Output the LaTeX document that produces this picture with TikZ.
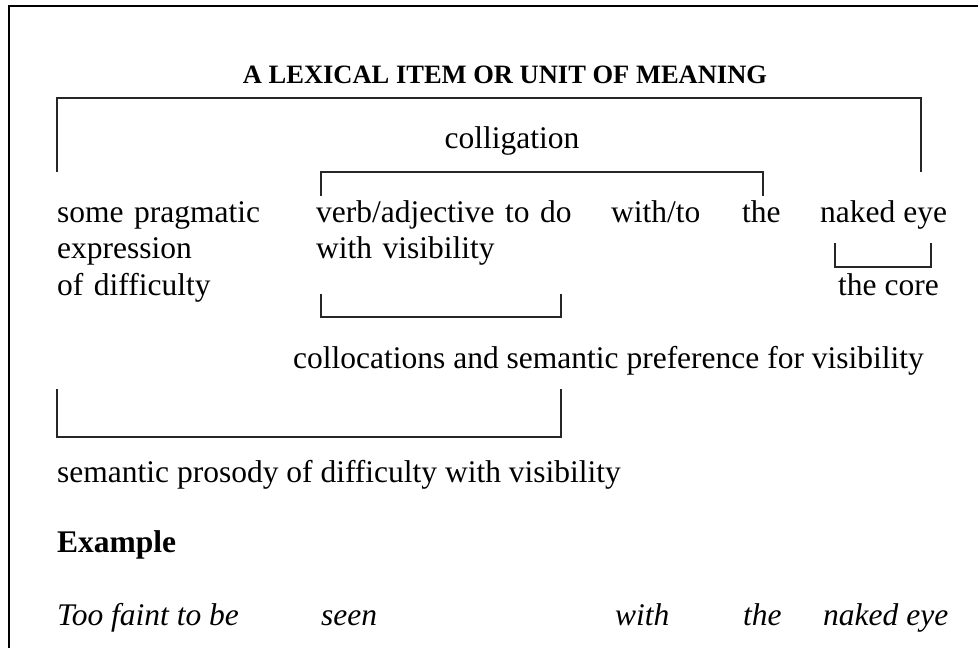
\documentclass[tikz,border=0pt]{standalone}
\usepackage{fontspec}
\setmainfont{Liberation Serif}
\begin{document}
\begin{tikzpicture}[x=1pt,y=-1pt,
  txt/.style={inner sep=0pt,anchor=base west,font=\fontsize{31.5}{36.5}\selectfont},
  brk/.style={line width=1.3pt,black!85},
  frameline/.style={line width=2pt}]
\useasboundingbox (0,0) rectangle (978,648);
\draw[frameline] (9,648) -- (9,6) -- (978,6);
\node[anchor=base,inner sep=0pt,font=\fontsize{26.5}{30}\selectfont\bfseries] (title) at (505,83) {A LEXICAL ITEM OR UNIT OF MEANING};
% outer bracket
\draw[brk] (57,172) -- (57,98) -- (921,98) -- (921,172);
\node[txt,anchor=base] (colig) at (512,148) {colligation};
% colligation bracket
\draw[brk] (321,196) -- (321,172) -- (763,172) -- (763,196);
\node[txt,text width=240pt,align=left] (prag) at (57,222) {some pragmatic\\expression\\of difficulty};
\node[txt,text width=290pt,align=left] (verb) at (316,222) {verb/adjective to do\\with visibility};
\node[txt] (withto) at (611,222) {with/to};
\node[txt] (the) at (742,222) {the};
\node[txt] (naked) at (820,222) {naked eye};
% core bracket
\draw[brk] (835,243) -- (835,267) -- (931,267) -- (931,243);
\node[txt] (core) at (838,295) {the core};
% collocations bracket
\draw[brk] (321,294) -- (321,317) -- (561,317) -- (561,294);
\node[txt] (colloc) at (293,368) {collocations and semantic preference for visibility};
% prosody bracket
\draw[brk] (57,389) -- (57,437) -- (561,437) -- (561,389);
\node[txt] (pros) at (57,482) {semantic prosody of difficulty with visibility};
\node[txt,font=\fontsize{31.5}{36.5}\selectfont\bfseries] (ex) at (57,552) {Example};
\node[txt,font=\fontsize{31.5}{36.5}\selectfont\itshape] (e1) at (57,625) {Too faint to be};
\node[txt,font=\fontsize{31.5}{36.5}\selectfont\itshape] (e2) at (321,625) {seen};
\node[txt,font=\fontsize{31.5}{36.5}\selectfont\itshape] (e3) at (615,625) {with};
\node[txt,font=\fontsize{31.5}{36.5}\selectfont\itshape] (e4) at (743,625) {the};
\node[txt,font=\fontsize{31.5}{36.5}\selectfont\itshape] (e5) at (823,625) {naked eye};
\end{tikzpicture}
\end{document}
